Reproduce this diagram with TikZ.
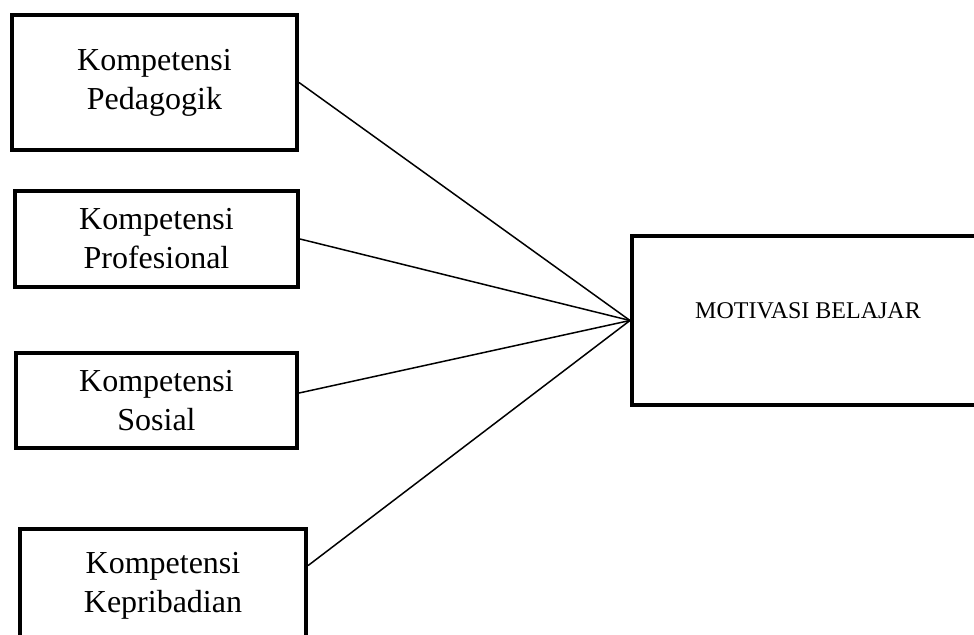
\documentclass[tikz,border=0pt]{standalone}
\usepackage{fontspec}
\setmainfont{Liberation Serif}
\usetikzlibrary{positioning}

\begin{document}
\begin{tikzpicture}[
  x=0.5pt, y=-0.5pt,
  kbox/.style={
    draw, line width=2pt, fill=white,
    font=\fontsize{16}{19.5}\selectfont, align=center,
    inner sep=0pt
  },
  link/.style={line width=0.75pt}
]

% Frame of the picture
\useasboundingbox (0,0) rectangle (974,635);
\clip (0,0) rectangle (974,635);

% Competence boxes
\node[kbox, minimum width=142.5pt, minimum height=67.5pt] (ped) at (154.5,82.5) {Kompetensi\\Pedagogik};
\node[kbox, minimum width=141.5pt, minimum height=48pt]   (pro) at (156.5,239) {Kompetensi\\Profesional};
\node[kbox, minimum width=140.5pt, minimum height=47.5pt] (sos) at (156.5,400.5) {Kompetensi\\Sosial};
\node[kbox, minimum width=143pt,   minimum height=57pt]   (kep) at (163,586) {Kompetensi\\Kepribadian};

% Dependent variable
\node[kbox, font=\fontsize{12}{14}\selectfont, minimum width=176pt, minimum height=84.5pt] (mot) at (808,320.5) {MOTIVASI BELAJAR\\[-4pt]};

% Links
\draw[link] (ped.east) -- (mot.west);
\draw[link] (pro.east) -- (mot.west);
\draw[link] (sos.3) -- (mot.west);
\draw[link] (kep.8) -- (mot.west);

\end{tikzpicture}
\end{document}
